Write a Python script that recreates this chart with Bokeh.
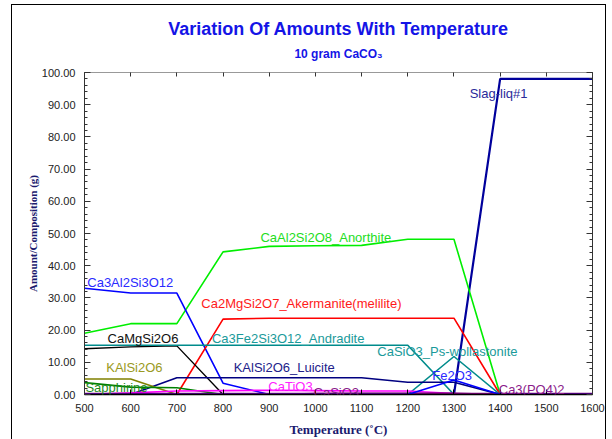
from bokeh.plotting import figure
from bokeh.models import (Range1d, LinearAxis, SingleIntervalTicker, NumeralTickFormatter,
                          Label, Title, CustomLabelingPolicy, InlineStyleSheet)
from bokeh.embed import file_html
from bokeh.resources import INLINE

# ---------------- data ----------------
temperature = [500, 600, 700, 800, 900, 1000, 1100, 1200, 1300, 1400, 1500, 1600]

slag_liq = [0, 0, 0, 0, 0, 0, 0, 0, 0, 98, 98, 98]
anorthite = [19, 22, 22, 44.3, 46, 46.2, 46.3, 48.2, 48.2, 0, 0, 0]
grossular = [33, 31.5, 31.5, 3.5, 0, 0, 0, 0, 0, 0, 0, 0]
akermanite = [0, 0, 0, 23.4, 23.7, 23.7, 23.7, 23.7, 23.7, 0, 0, 0]
diopside = [14.2, 14.8, 15.1, 0, 0, 0, 0, 0, 0, 0, 0, 0]
andradite = [15.3, 15.3, 15.3, 15.3, 15.3, 15.3, 15.3, 15.3, 0, 0, 0, 0]
wollastonite = [0, 0, 0, 0, 0, 0, 0, 0, 11.8, 0, 0, 0]
luicite = [0, 0, 5.2, 5.2, 5.2, 5.2, 5.2, 3.8, 3.8, 0, 0, 0]
kalsi2o6 = [4.8, 4.8, 0, 0, 0, 0, 0, 0, 0, 0, 0, 0]
sapphirine = [3.7, 2.3, 2.1, 0, 0, 0, 0, 0, 0, 0, 0, 0]
catio3 = [0, 0.5, 1.1, 1.2, 1.3, 1.2, 1.1, 1.1, 0.3, 0, 0, 0]
casio3 = [0, 0, 0, 0, 0, 0.3, 0.4, 0.4, 0.4, 0, 0, 0]
ca3po42 = [0.2, 0.2, 0.2, 0.2, 0.2, 0.2, 0.2, 0.2, 0.2, 0.2, 0.2, 0.2]
fe2o3 = [0, 0, 0, 0, 0, 0, 0, 0, 4.5, 0, 0, 0]

series_names = ["Slag-liq#1", "CaAl2Si2O8_Anorthite", "Ca3Al2Si3O12",
                "Ca2MgSi2O7_Akermanite(melilite)", "CaMgSi2O6", "Ca3Fe2Si3O12_Andradite",
                "CaSiO3_Ps-wollastonite", "KAlSi2O6_Luicite", "KAlSi2O6", "Sapphirine",
                "CaTiO3", "CaSiO3", "Ca3(PO4)2", "Fe2O3"]
series_values = [slag_liq, anorthite, grossular, akermanite, diopside, andradite,
                 wollastonite, luicite, kalsi2o6, sapphirine, catio3, casio3, ca3po42, fe2o3]
series_colors = ["#00009c", "#00ee00", "#0000ff", "#ff0000", "#000000", "#008b8b",
                 "#008b8b", "#000080", "#808000", "#008000", "#ff00ff", "#800080",
                 "#800080", "#0000ff"]
series_widths = [2.2, 1.6, 1.6, 1.6, 1.4, 1.6, 1.6, 1.6, 1.6, 1.6, 1.6, 1.6, 2.0, 1.6]

# label anchor positions (data coords, left/middle)
label_x = [1334, 881, 506, 753, 550, 776, 1134, 823, 547, 502, 898, 996, 1397, 1253]
label_y = [93.6, 48.9, 34.7, 28.3, 17.5, 17.3, 13.5, 8.5, 8.5, 2.1, 2.6, 0.6, 1.4, 6.0]
label_colors = ["#2a2a9a", "#22dd22", "#2a2aff", "#ff1a1a", "#111111", "#1a9a9a",
                "#1a9a9a", "#22228a", "#9a9a22", "#1a8a1a", "#ff22ff", "#8a1a8a",
                "#8a1a8a", "#2a2aff"]

title_text = "Variation Of Amounts With Temperature"
subtitle_text = "10 gram CaCO\u2083"
x_label = "Temperature (\u02daC)"
y_label = "Amount/Composition (g)"

# ---------------- figure ----------------
p = figure(width=612, height=439, output_backend="svg", toolbar_location=None,
           x_range=Range1d(500, 1600), y_range=Range1d(0, 100),
           min_border_left=84, min_border_right=20, min_border_top=72, min_border_bottom=45)
p.background_fill_color = "white"
p.border_fill_color = "white"
p.outline_line_color = None
p.xgrid.grid_line_color = None
p.ygrid.grid_line_color = None

for vals, col, w in zip(series_values, series_colors, series_widths):
    p.line(temperature, vals, line_color=col, line_width=w)

for name, lx, ly, col in zip(series_names, label_x, label_y, label_colors):
    p.add_layout(Label(x=lx, y=ly, text=name, text_color=col, text_font="Liberation Sans",
                       text_font_size="13px", text_align="left", text_baseline="middle"))

# bottom axis
xa = p.xaxis[0]
xa.ticker = SingleIntervalTicker(interval=100, num_minor_ticks=0)
xa.axis_line_color = "#000000"
xa.axis_line_width = 1.5
xa.major_tick_in = 5
xa.major_tick_out = 0
xa.minor_tick_line_color = None
xa.major_label_text_font = "Liberation Sans"
xa.major_label_text_font_size = "11px"
xa.major_label_text_color = "#222222"
xa.major_label_standoff = 9
xa.axis_label = x_label
xa.axis_label_text_font = "Liberation Serif"
xa.axis_label_text_font_style = "bold"
xa.axis_label_text_font_size = "13px"
xa.axis_label_text_color = "#1a1a6e"
xa.axis_label_standoff = 7

# left axis
ya = p.yaxis[0]
ya.ticker = SingleIntervalTicker(interval=10, num_minor_ticks=5)
ya.formatter = NumeralTickFormatter(format="0.00")
ya.axis_line_color = "#333333"
ya.major_tick_in = 6
ya.major_tick_out = 0
ya.minor_tick_in = 3
ya.minor_tick_out = 0
ya.major_tick_line_color = "#333333"
ya.minor_tick_line_color = "#333333"
ya.major_label_text_font = "Liberation Sans"
ya.major_label_text_font_size = "11px"
ya.major_label_text_color = "#222222"
ya.major_label_standoff = 9
ya.axis_label = y_label
ya.axis_label_text_font = "Liberation Serif"
ya.axis_label_text_font_style = "bold"
ya.axis_label_text_font_size = "11px"
ya.axis_label_text_color = "#1a1a6e"
ya.axis_label_standoff = 0

# top axis (ticks only)
ta = LinearAxis(ticker=SingleIntervalTicker(interval=100, num_minor_ticks=0),
                axis_line_color="#999999", major_tick_line_color="#333333",
                major_tick_in=4, major_tick_out=0, minor_tick_line_color=None,
                major_label_policy=CustomLabelingPolicy(code="return []"),
                major_label_text_font_size="1px", major_label_standoff=0)
p.add_layout(ta, "above")

# right axis (ticks only)
ra = LinearAxis(ticker=SingleIntervalTicker(interval=10, num_minor_ticks=5),
                axis_line_color="#333333", major_tick_line_color="#333333",
                minor_tick_line_color="#333333",
                major_tick_in=6, major_tick_out=0, minor_tick_in=3, minor_tick_out=0,
                major_label_policy=CustomLabelingPolicy(code="return []"),
                major_label_text_font_size="1px", major_label_standoff=0)
p.add_layout(ra, "right")

# titles (subtitle first = closest to the plot)
p.add_layout(Title(text=subtitle_text, align="center", text_font="Liberation Sans",
                   text_font_style="bold", text_font_size="12px", text_color="#1414e6",
                   standoff=16), "above")
p.add_layout(Title(text=title_text, align="center", text_font="Liberation Sans",
                   text_font_style="bold", text_font_size="18px", text_color="#1414e6",
                   standoff=-4), "above")

# outer frame drawn around the page
p.stylesheets = [InlineStyleSheet(css="""
:host { position: relative; }
:host::after { content: ""; position: absolute; left: 11px; top: 4px; width: 595px; height: 460px;
               border: 1.5px solid #000; pointer-events: none; box-sizing: border-box; }
""")]

open("out.html", "w").write(file_html(p, INLINE))
